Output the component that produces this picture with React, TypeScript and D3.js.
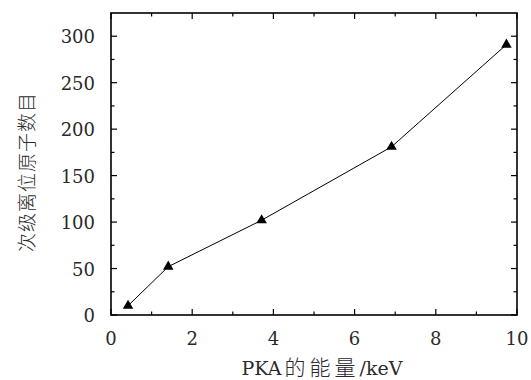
import React from "react";
import * as d3 from "d3";

const energies = [0.42, 1.41, 3.71, 6.91, 9.74];
const counts = [10, 52, 102, 181, 291];
const xTicks = [0, 2, 4, 6, 8, 10];
const yTicks = [0, 50, 100, 150, 200, 250, 300];
const xMinor = [1, 3, 5, 7, 9];
const yMinor = [25, 75, 125, 175, 225, 275];
const xLabelParts = ["PKA", "的能量", "/keV"];
const yLabel = "次级离位原子数目";

const W = 531, H = 380;
const L = 111, R = 517, T = 13, B = 315;

export default function App() {
  const x = d3.scaleLinear().domain([0, 10]).range([L, R]);
  const y = d3.scaleLinear().domain([0, 325]).range([B, T]);
  const line = d3.line<number>().x((_, i) => x(energies[i])).y((d) => y(d));
  const tri = d3.symbol().type(d3.symbolTriangle).size(48)();
  const numFont = "DejaVu Serif";
  const cjkFont = "Noto Sans CJK SC";
  const major = 6, minor = 3.5;
  return (
    <svg width={W} height={H} style={{ position: "absolute", left: 0, top: 0, background: "#fff" }}>
      <rect x={0} y={0} width={W} height={H} fill="#fff" />
      <path d={line(counts) || ""} fill="none" stroke="#000" strokeWidth={1} />
      {counts.map((c, i) => (
        <path key={i} d={tri || ""} transform={`translate(${x(energies[i])},${y(c)})`} fill="#000" />
      ))}
      <g stroke="#000" strokeWidth={1.2}>
        {xTicks.map((t) => (
          <g key={"xt" + t}>
            <line x1={x(t)} x2={x(t)} y1={B} y2={B - major} />
            <line x1={x(t)} x2={x(t)} y1={T} y2={T + major} />
          </g>
        ))}
        {xMinor.map((t) => (
          <g key={"xm" + t}>
            <line x1={x(t)} x2={x(t)} y1={B} y2={B - minor} />
            <line x1={x(t)} x2={x(t)} y1={T} y2={T + minor} />
          </g>
        ))}
        {yTicks.map((t) => (
          <g key={"yt" + t}>
            <line x1={L} x2={L + major} y1={y(t)} y2={y(t)} />
            <line x1={R} x2={R - major} y1={y(t)} y2={y(t)} />
          </g>
        ))}
        {yMinor.map((t) => (
          <g key={"ym" + t}>
            <line x1={L} x2={L + minor} y1={y(t)} y2={y(t)} />
            <line x1={R} x2={R - minor} y1={y(t)} y2={y(t)} />
          </g>
        ))}
      </g>
      <rect x={L} y={T} width={R - L} height={B - T} fill="none" stroke="#000" strokeWidth={1.6} />
      <g fontFamily={numFont} fontSize={18} fill="#2a2a2a">
        {xTicks.map((t) => (
          <text key={"xl" + t} x={x(t)} y={B + 30} textAnchor="middle">{t}</text>
        ))}
        {yTicks.map((t) => (
          <text key={"yl" + t} x={L - 16} y={y(t) + 7} textAnchor="end">{t}</text>
        ))}
      </g>
      <text x={322} y={375} textAnchor="middle" fontFamily={numFont} fontSize={19} fill="#2a2a2a">
        <tspan>{xLabelParts[0]}</tspan>
        <tspan fontFamily={cjkFont} fontSize={21} letterSpacing={4} dx={3} fontWeight={300}>{xLabelParts[1]}</tspan>
        <tspan>{xLabelParts[2]}</tspan>
      </text>
      <text transform={`translate(34,172) rotate(-90)`} textAnchor="middle" fontFamily={cjkFont} fontSize={19} letterSpacing={1} fontWeight={300} fill="#2a2a2a">{yLabel}</text>
    </svg>
  );
}
